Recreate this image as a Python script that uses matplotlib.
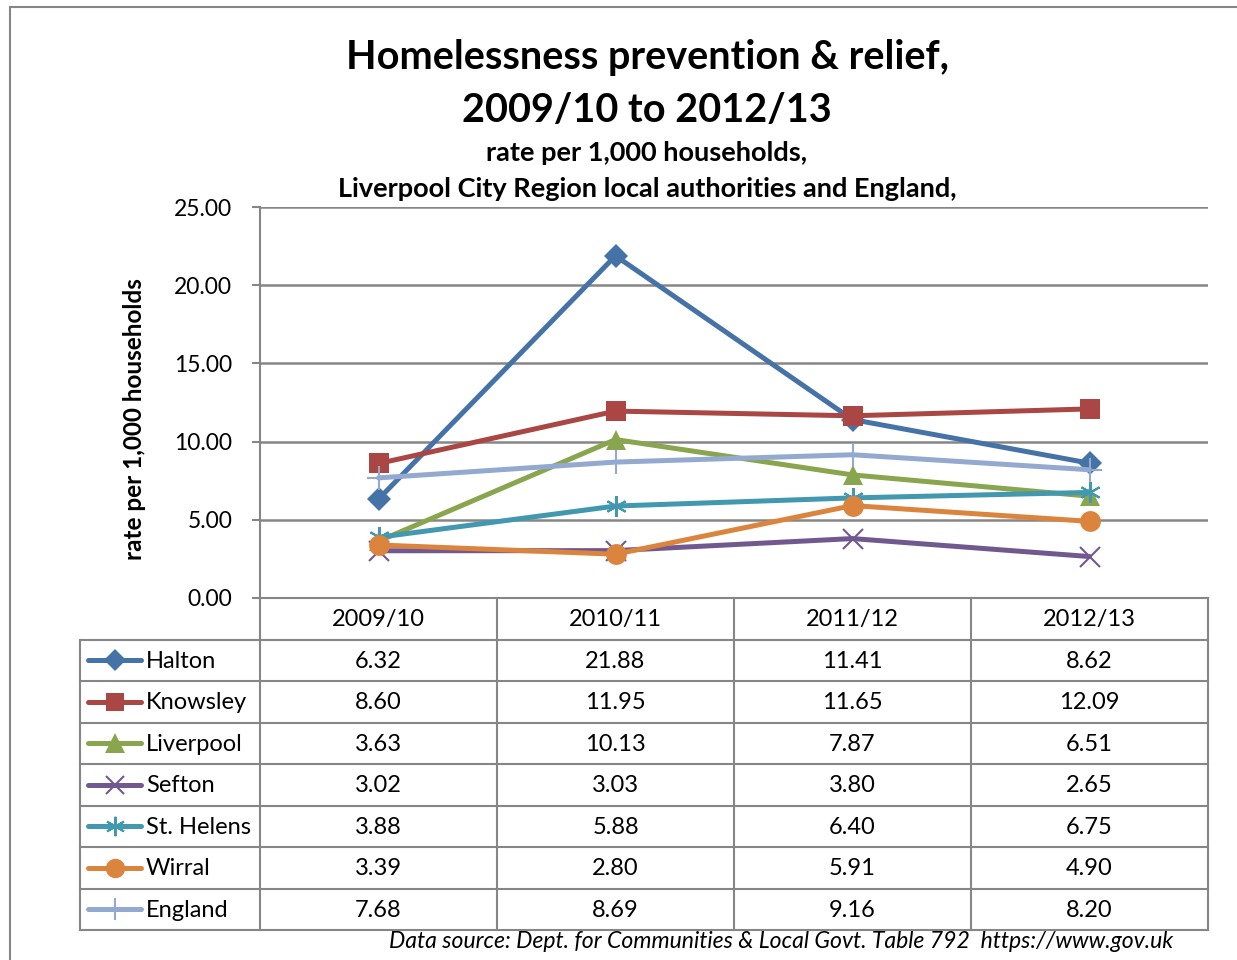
import matplotlib

matplotlib.use("Agg")
import matplotlib.pyplot as plt
from matplotlib.lines import Line2D
from matplotlib.patches import Rectangle

plt.rcParams["font.family"] = ["Lato", "DejaVu Sans"]

YEARS = ["2009/10", "2010/11", "2011/12", "2012/13"]
AREAS = ["Halton", "Knowsley", "Liverpool", "Sefton", "St. Helens", "Wirral", "England"]

HALTON = [6.32, 21.88, 11.41, 8.62]
KNOWSLEY = [8.60, 11.95, 11.65, 12.09]
LIVERPOOL = [3.63, 10.13, 7.87, 6.51]
SEFTON = [3.02, 3.03, 3.80, 2.65]
ST_HELENS = [3.88, 5.88, 6.40, 6.75]
WIRRAL = [3.39, 2.80, 5.91, 4.90]
ENGLAND = [7.68, 8.69, 9.16, 8.20]

SERIES = [HALTON, KNOWSLEY, LIVERPOOL, SEFTON, ST_HELENS, WIRRAL, ENGLAND]

STYLES = [
    dict(color="#4572A7", marker="D", ms=12, mew=0),
    dict(color="#AA4643", marker="s", ms=14, mew=0),
    dict(color="#89A54E", marker="^", ms=15, mew=0),
    dict(color="#71588F", marker="x", ms=14, mew=1.5),
    dict(color="#4198AF", marker=(6, 2, 0), ms=15, mew=1.5),
    dict(color="#DB843D", marker="o", ms=15, mew=0),
    dict(color="#93A9CF", marker="+", ms=17, mew=1.5),
]

W, H = 1237, 960
GRID = "#868686"
FS = 17


def fx(x):
    return x / W


def fy(y):
    return 1 - y / H


fig = plt.figure(figsize=(W / 100, H / 100), dpi=100)

# outer chart frame
fig.add_artist(Rectangle((fx(10), fy(1000)), fx(1300), fy(7) - fy(1000),
                         transform=fig.transFigure, fill=False,
                         edgecolor=GRID, linewidth=1.5))

# plot area
left, right, top, bottom = 260, 1208, 207, 598
ax = fig.add_axes([fx(left), fy(bottom), fx(right - left), fy(top) - fy(bottom)])
xs = list(range(len(YEARS)))
for vals, st in zip(SERIES, STYLES):
    ax.plot(xs, vals, color=st["color"], lw=3.6, marker=st["marker"],
            markersize=st["ms"], markeredgewidth=st["mew"],
            markeredgecolor=st["color"], markerfacecolor=st["color"],
            solid_capstyle="round", solid_joinstyle="round", zorder=3)

ax.set_xlim(-0.5, len(YEARS) - 0.5)
ax.set_ylim(0, 25)
ax.set_yticks([0, 5, 10, 15, 20, 25])
ax.set_yticklabels([f"{v:.2f}" for v in [0, 5, 10, 15, 20, 25]], fontsize=16.5)
ax.set_xticks([])
for s in ["top", "right"]:
    ax.spines[s].set_visible(False)
for s in ["left", "bottom"]:
    ax.spines[s].set_color(GRID)
    ax.spines[s].set_linewidth(1.5)
ax.tick_params(axis="y", length=6, width=1.5, color=GRID, pad=14)
ax.yaxis.grid(True, color=GRID, linewidth=1.8)
ax.set_axisbelow(True)

fig.text(fx(134), fy(419), "rate per 1,000 households", rotation=90,
         ha="center", va="center", fontsize=17.5, fontweight="bold")

# data table beneath the plot
row_h = (930 - 598) / 8
col_edges = [260, 497, 734, 971, 1208]
tab = fig.add_axes([0, 0, 1, 1], facecolor="none")
tab.set_xlim(0, W)
tab.set_ylim(H, 0)
tab.axis("off")

lw = 1.5
for x in col_edges:
    tab.plot([x, x], [598, 930], color=GRID, lw=lw)
tab.plot([80, 80], [598 + row_h, 930], color=GRID, lw=lw)
for i in range(1, 9):
    y = 598 + i * row_h
    tab.plot([80, 1208], [y, y], color=GRID, lw=lw)

for j, yr in enumerate(YEARS):
    cx = (col_edges[j] + col_edges[j + 1]) / 2
    tab.text(cx, 598 + row_h / 2 + 1, yr, ha="center", va="center", fontsize=FS)

for i, (name, vals, st) in enumerate(zip(AREAS, SERIES, STYLES)):
    cy = 598 + (i + 1.5) * row_h
    tab.add_line(Line2D([88, 141], [cy, cy], color=st["color"], lw=3.6,
                        solid_capstyle="round"))
    tab.plot([114.5], [cy], linestyle="none", marker=st["marker"],
             markersize=st["ms"] - 1, markeredgewidth=st["mew"],
             color=st["color"])
    tab.text(146, cy + 1, name, ha="left", va="center", fontsize=FS)
    for j, v in enumerate(vals):
        cx = (col_edges[j] + col_edges[j + 1]) / 2
        tab.text(cx, cy + 1, f"{v:.2f}", ha="center", va="center", fontsize=FS)

fig.text(fx(647), fy(58), "Homelessness prevention & relief,", ha="center",
         va="center", fontsize=28.5, fontweight="bold")
fig.text(fx(647), fy(110), "2009/10 to 2012/13", ha="center", va="center",
         fontsize=28.5, fontweight="bold")
fig.text(fx(647), fy(153), "rate per 1,000 households,", ha="center",
         va="center", fontsize=19.5, fontweight="bold")
fig.text(fx(647), fy(189), "Liverpool City Region local authorities and England,",
         ha="center", va="center", fontsize=19.5, fontweight="bold")
fig.text(fx(1173), fy(942),
         "Data source: Dept. for Communities & Local Govt. Table 792  https://www.gov.uk",
         ha="right", va="center", fontsize=16.6, style="italic")

fig.savefig("out.png", dpi=100)
